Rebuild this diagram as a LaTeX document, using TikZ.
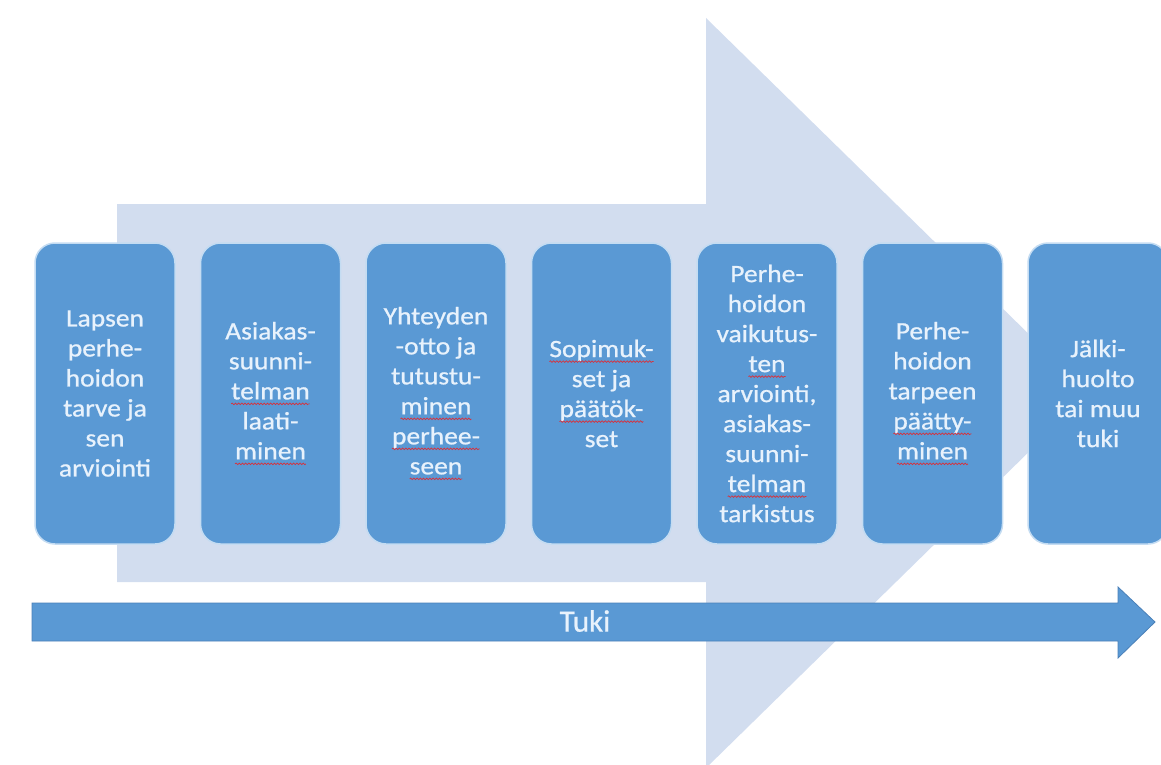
\documentclass[tikz,border=0pt]{standalone}
\usepackage{fontspec}
\setmainfont{Carlito}[FakeStretch=1.1,FakeBold=0.8]
\newfontfamily\tukifont{Carlito}[FakeBold=0.6]
\usetikzlibrary{decorations.pathmorphing}
\definecolor{boxblue}{HTML}{5A99D4}
\definecolor{bigarrow}{HTML}{D2DDEF}
\definecolor{boxedge}{HTML}{C4DCF2}
\definecolor{tukiedge}{HTML}{4A80B8}
\definecolor{txt}{HTML}{E8F2FC}
\definecolor{spell}{HTML}{D8303A}
\newcommand\rw[1]{\tikz[baseline=(w.base),x=1pt,y=1pt]{\node[draw=none,fill=none,rounded corners=0pt,minimum width=0pt,minimum height=0pt,inner sep=0pt,outer sep=0pt,text=txt,align=left] (w) {#1};
  \draw[spell, line width=0.7pt, rounded corners=0pt, decorate, decoration={snake, amplitude=0.8pt, segment length=3.2pt}] ([yshift=-4.5pt]w.base west) -- ([yshift=-4.5pt]w.base east);}}
\tikzset{
  stepbox/.style={draw=boxedge, line width=1.5pt, fill=boxblue, rounded corners=20pt,
    minimum width=140pt, minimum height=301pt, inner sep=0pt, text=txt, align=center,
    font=\fontsize{25}{30}\selectfont},
}
\begin{document}
\begin{tikzpicture}[x=1pt,y=-1pt]
\useasboundingbox (0,0) rectangle (1161,765);
\clip (0,0) rectangle (1161,765);
% big light arrow
\fill[bigarrow] (117,204) -- (706,204) -- (706,18) -- (1089,393) -- (706,768) -- (706,582) -- (117,582) -- cycle;
% boxes
\node[stepbox] (b1) at (105,393.5) {Lapsen\\perhe-\\hoidon\\tarve ja\\sen\\arviointi};
\node[stepbox] (b2) at (270.5,393.5) {Asiakas-\\suunni-\\\rw{telman}\\laati-\\\rw{minen}};
\node[stepbox] (b3) at (436,393.5) {Yhteyden\\-otto ja\\tutustu-\\\rw{minen}\\\rw{perhee-}\\\rw{seen}};
\node[stepbox] (b4) at (601.5,393.5) {\rw{Sopimuk-}\\set ja\\\rw{päätök-}\\set};
\node[stepbox] (b5) at (767,393.5) {Perhe-\\hoidon\\vaikutus-\\\rw{ten}\\arviointi,\\asiakas-\\suunni-\\\rw{telman}\\tarkistus};
\node[stepbox] (b6) at (932.5,393.5) {Perhe-\\hoidon\\tarpeen\\\rw{päätty-}\\\rw{minen}};
\node[stepbox] (b7) at (1098,393.5) {Jälki-\\huolto\\tai muu\\tuki};
% Tuki arrow
\filldraw[fill=boxblue, draw=tukiedge, line width=0.8pt] (32,603) -- (1118,603) -- (1118,587) -- (1155,622) -- (1118,658) -- (1118,641) -- (32,641) -- cycle;
\node[text=txt, font=\tukifont\fontsize{31}{32}\selectfont, inner sep=0pt] (tuki) at (585,621) {Tuki};
\end{tikzpicture}
\end{document}
